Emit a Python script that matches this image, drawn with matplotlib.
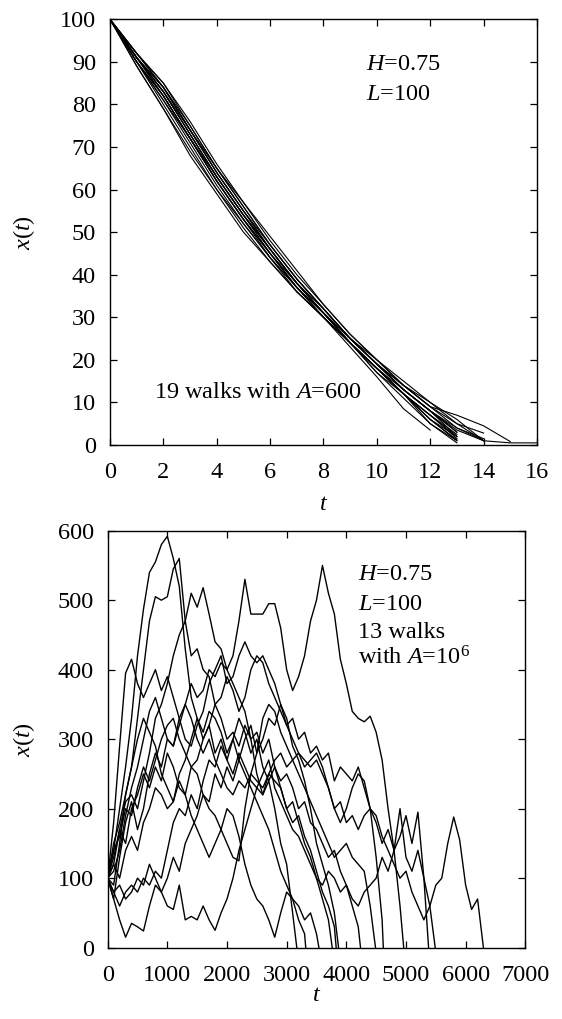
import matplotlib
matplotlib.use('Agg')
import matplotlib.pyplot as plt
import numpy as np

plt.rcParams['font.family'] = ['Liberation Serif', 'DejaVu Serif']
plt.rcParams['mathtext.fontset'] = 'custom'
plt.rcParams['mathtext.rm'] = 'Liberation Serif'
plt.rcParams['mathtext.it'] = 'Liberation Serif:italic'

# top panel: 19 walks with A=600, x(t) at t = 0, 1, 2, ...
top_walks = [
    [100, 91, 84, 75, 65, 56, 47, 39, 32, 25, 19, 13, 8, 3.5, 1.0],
    [100, 90, 82, 72, 62, 53, 45, 37, 31, 24, 18, 12, 7, 2],
    [100, 92, 85, 76, 66, 57, 49, 41, 33, 26, 20, 15, 10, 6, 1, 0.5, 0.5],
    [100, 91, 83, 73, 63, 54, 46, 38, 31, 25, 19, 14, 9, 7, 4.5, 0.8],
    [100, 90, 80, 70, 60, 52, 44, 36, 30, 23, 16, 8.5, 3.5],
    [100, 89, 79, 69, 60, 51, 43, 36, 30, 24, 18, 12, 6, 1],
    [100, 91, 83, 74, 64, 55, 47, 39, 32, 25, 19, 13, 8, 3],
    [100, 92, 84, 74, 64, 55, 46, 38, 31, 24, 18, 13, 8, 4, 1],
    [100, 91, 82, 72, 63, 54, 46, 38, 31, 24, 18, 12, 7, 2.5],
    [100, 90, 81, 71, 61, 52, 44, 37, 30, 24, 18, 12, 7, 1.5],
    [100, 91, 83, 73, 63, 54, 46, 38, 32, 25, 19, 14, 10, 5, 2.8],
    [100, 92, 85, 75, 65, 57, 48, 40, 33, 26, 20, 14, 9, 4, 1.5],
    [100, 89, 79, 68, 59, 50, 43, 36, 30, 24, 18, 12, 5, 0.5],
    [100, 91, 82, 72, 62, 53, 45, 38, 31, 25, 19, 13, 8, 3],
    [100, 90, 81, 72, 62, 53, 45, 37, 31, 24, 17, 11, 5, 1],
    [100, 91, 83, 73, 63, 54, 45, 37, 30, 24, 17, 12, 6, 2],
    [100, 92, 84, 74, 65, 56, 47, 39, 32, 25, 19, 13, 8, 2],
    [100, 90, 82, 72, 62, 53, 44, 37, 31, 24, 18, 12, 6, 1.2],
    [100, 91, 84, 74, 64, 55, 46, 38, 31, 25, 20, 14, 9, 5, 1],
]

# bottom panel: 13 walks with A=1e6, x(t) every 100 steps, then 0 at the end time
bottom_step = 100
bottom_walks = [
    [100, 140, 200, 260, 330, 420, 487, 540, 555, 580, 592, 560, 520, 430, 360, 330, 300, 320, 280, 300,
     270, 300, 330, 310, 280, 300, 260, 240, 260, 230, 200, 210, 180, 150, 130, 100, 70, 40],
    [100, 180, 290, 395, 415, 380, 360, 380, 400, 370, 390, 360, 330, 300, 290, 320, 340, 380, 400, 420,
     380, 390, 420, 440, 420, 410, 420, 400, 380, 350, 320, 300, 280, 270, 260, 270, 250, 230, 200, 210,
     180, 190, 170, 190, 200, 180, 150, 170, 140, 200, 130, 110, 140, 100, 60],
    [100, 90, 150, 220, 260, 330, 400, 470, 505, 500, 505, 545, 560, 470, 420, 430, 400, 390, 350, 330,
     300, 310, 290, 320, 300, 310, 280, 300, 260, 240, 250, 230, 200, 210, 180, 170, 150, 130, 140, 110,
     90, 60, 30],
    [100, 120, 170, 210, 220, 200, 240, 280, 330, 350, 380, 420, 450, 470, 510, 490, 518, 480, 440, 430,
     400, 380, 360, 340, 300, 250, 220, 240, 200, 150, 120, 50],
    [100, 70, 130, 180, 210, 170, 200, 250, 280, 260, 300, 290, 330, 350, 380, 360, 370, 400, 390, 410,
     400, 420, 470, 530, 480, 480, 480, 495, 495, 460, 400, 370, 390, 420, 470, 500, 550, 510, 480, 415,
     380, 340, 330, 325, 333, 310, 270, 200, 140, 60],
    [100, 140, 160, 200, 190, 230, 260, 240, 270, 300, 320, 330, 300, 280, 260, 270, 300, 320, 350, 360,
     390, 370, 340, 360, 400, 420, 410, 380, 360, 340, 320, 330, 300, 310, 280, 290, 270, 280, 240, 260,
     250, 240, 260, 230, 200, 190, 160, 140, 120, 100, 110, 80, 60, 40, 60, 90, 100, 150, 188, 155,
     90, 55, 70],
    [100, 80, 60, 80, 90, 80, 100, 90, 110, 100, 140, 180, 200, 190, 220, 200, 240, 270, 260, 290,
     270, 250, 280, 260, 240, 230, 250, 270, 230, 210, 190, 170, 160, 140, 120, 100, 90, 110, 100, 80,
     90, 70, 60, 80, 90, 100, 130, 110, 140, 160, 190, 150, 195, 100],
    [100, 70, 40, 15, 35, 30, 24, 60, 90, 80, 100, 130, 110, 150, 170, 190, 220, 210, 250, 230,
     260, 240, 270, 300, 320, 280, 300, 330, 320, 350, 330, 290, 270, 240, 200, 150, 120, 90, 50],
    [100, 80, 90, 70, 80, 100, 90, 120, 100, 80, 60, 55, 90, 40, 45, 40, 60, 40, 25, 50,
     70, 100, 140, 170, 200, 230, 220, 250, 240, 230, 200, 180, 190, 160, 140, 110, 80, 60, 30],
    [100, 150, 180, 220, 260, 300, 330, 310, 290, 250, 230, 210, 240, 220, 260, 250, 220, 200, 190, 170,
     150, 130, 125, 200, 250, 280, 330, 350, 340, 310, 290, 270, 250, 230, 210, 190, 170, 150, 130, 140,
     150, 130, 120, 110, 60],
    [100, 130, 170, 150, 200, 220, 250, 230, 260, 240, 280, 260, 230, 220, 190, 170, 150, 130, 150, 170,
     200, 190, 160, 120, 90, 70, 60, 40, 15, 50, 80, 70, 60, 40, 50, 20],
    [100, 120, 100, 140, 160, 140, 180, 200, 230, 220, 200, 210, 250, 270, 300, 330, 310, 340, 330, 310,
     280, 300, 270, 250, 230, 210, 190, 170, 140, 110, 90, 70, 40, 20],
    [100, 110, 140, 190, 230, 260, 300, 340, 360, 330, 300, 290, 320, 350, 330, 300, 280, 300, 270, 250,
     230, 220, 240, 230, 250, 240, 230, 250, 270, 280, 260, 270, 280, 260, 270, 280, 260, 230, 200, 180,
     200, 230, 250, 240, 200, 130, 40],
]
bottom_ends = [3764, 5490, 4238, 3170, 4962, 6298, 5379, 3870, 3830, 4489, 3541, 3320, 4620]

fig = plt.figure(figsize=(5.62, 10.19), dpi=100)
ax1 = fig.add_axes([0.1957, 0.5633, 0.7598, 0.4178])
ax2 = fig.add_axes([0.1916, 0.0700, 0.7431, 0.4092])

for w in top_walks:
    ax1.plot(np.arange(len(w)), w, color='black', lw=0.8)

for w, end in zip(bottom_walks, bottom_ends):
    t = list(np.arange(len(w)) * bottom_step) + [end]
    ax2.plot(t, list(w) + [0], color='black', lw=1.0)

ax1.set_xlim(0, 16)
ax1.set_ylim(0, 100)
ax1.set_xticks(range(0, 17, 2))
ax1.set_yticks(range(0, 101, 10))

ax2.set_xlim(0, 7000)
ax2.set_ylim(0, 600)
ax2.set_xticks(range(0, 7001, 1000))
ax2.set_yticks(range(0, 601, 100))

for ax in (ax1, ax2):
    ax.tick_params(direction='in', top=True, right=True, length=5, width=0.9,
                   labelsize=17.5)
    ax.tick_params(axis='x', pad=12.5)
    ax.tick_params(axis='y', pad=10)
    for s in ax.spines.values():
        s.set_linewidth(1.0)
    ax.set_xlabel(r'$t$', fontsize=17.5)
    ax.set_ylabel(r'$\mathit{x(t)}$', fontsize=17.5)
    ax.yaxis.set_label_coords(-0.17, 0.5)

ax1.xaxis.set_label_coords(0.5, -0.115)
ax2.xaxis.set_label_coords(0.5, -0.09)

ax1.text(9.58, 88, r'$H$=0.75', fontsize=17.5, va='baseline')
ax1.text(9.58, 81, r'$L$=100', fontsize=17.5, va='baseline')
ax1.text(1.65, 11, r'19 walks with $A$=600', fontsize=17.5, va='baseline')

ax2.text(4200, 529, r'$H$=0.75', fontsize=17.5, va='baseline')
ax2.text(4200, 486, r'$L$=100', fontsize=17.5, va='baseline')
ax2.text(4200, 445, '13 walks', fontsize=17.5, va='baseline')
ax2.text(4200, 407, r'with $A$=10$^6$', fontsize=17.5, va='baseline')

fig.savefig('out.png', dpi=100)
